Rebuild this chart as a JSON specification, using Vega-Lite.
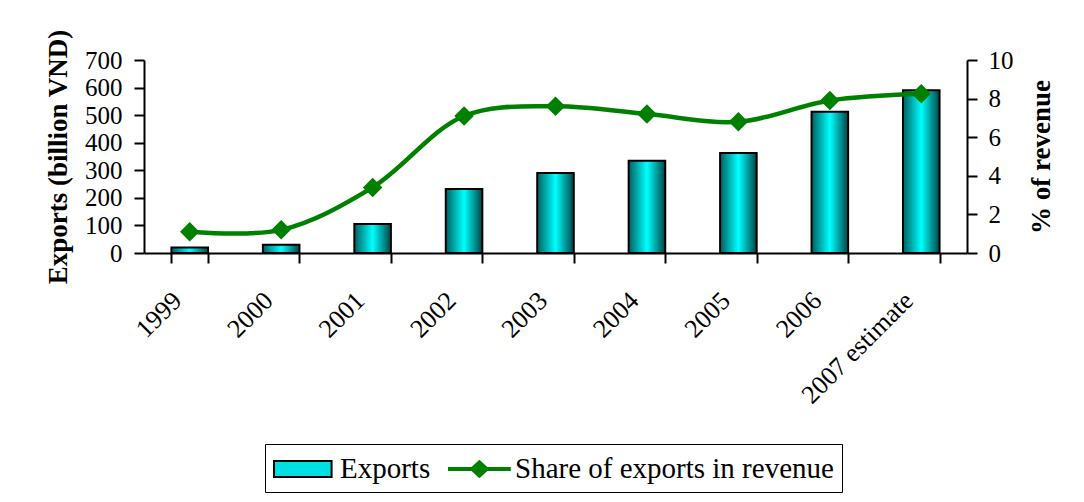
{
  "$schema": "https://vega.github.io/schema/vega-lite/v6.json",
  "width": 823,
  "height": 193,
  "padding": {"left": 44, "top": 28, "right": 5, "bottom": 5},
  "background": "white",
  "config": {
    "font": "Liberation Serif",
    "view": {"stroke": null},
    "axis": {
      "grid": false,
      "domainColor": "black",
      "domainWidth": 2,
      "tickColor": "black",
      "tickWidth": 2,
      "tickSize": 10,
      "labelColor": "black",
      "labelFont": "Liberation Serif",
      "labelFontSize": 25,
      "labelOverlap": false,
      "titleFont": "Liberation Serif",
      "titleFontSize": 27,
      "titleFontWeight": "bold",
      "titleColor": "black"
    },
    "legend": {
      "orient": "none",
      "legendX": 121,
      "legendY": 384,
      "direction": "horizontal",
      "strokeColor": "black",
      "padding": 8,
      "labelFontSize": 29,
      "labelFont": "Liberation Serif",
      "labelColor": "black",
      "labelLimit": 500,
      "labelOffset": 33,
      "columnPadding": 14,
      "symbolSize": 1024,
      "symbolStrokeWidth": 2,
      "symbolOpacity": 1
    }
  },
  "data": {
    "values": [
      {"year": "1999", "exports": 20, "share": 1.1},
      {"year": "2000", "exports": 30, "share": 1.2},
      {"year": "2001", "exports": 105, "share": 3.4},
      {"year": "2002", "exports": 232, "share": 7.1},
      {"year": "2003", "exports": 290, "share": 7.6},
      {"year": "2004", "exports": 335, "share": 7.2},
      {"year": "2005", "exports": 363, "share": 6.8},
      {"year": "2006", "exports": 512, "share": 7.9},
      {"year": "2007 estimate", "exports": 590, "share": 8.25}
    ]
  },
  "encoding": {
    "x": {
      "field": "year",
      "type": "nominal",
      "sort": null,
      "scale": {"paddingInner": 0.6, "paddingOuter": 0.3},
      "axis": {
        "title": null,
        "labelAngle": -45,
        "labelFontSize": 26,
        "labelPadding": 24,
        "labelOffset": -22,
        "tickBand": "extent",
        "labelLimit": 300
      }
    }
  },
  "layer": [
    {
      "layer": [
        {
          "mark": {
            "type": "bar",
            "fill": {
              "gradient": "linear",
              "x1": 0, "y1": 0, "x2": 1, "y2": 0,
              "stops": [
                {"offset": 0, "color": "#005f5f"},
                {"offset": 0.5, "color": "#00ffff"},
                {"offset": 1, "color": "#004545"}
              ]
            },
            "stroke": "black",
            "strokeWidth": 2
          },
          "encoding": {
            "y": {
              "field": "exports",
              "type": "quantitative",
              "scale": {"domain": [0, 700], "nice": false},
              "axis": {
                "title": "Exports (billion VND)",
                "values": [0, 100, 200, 300, 400, 500, 600, 700],
                "labelPadding": 12,
                "titlePadding": 12
              }
            }
          }
        },
        {
          "mark": {"type": "point", "opacity": 0, "filled": true},
          "encoding": {
            "y": {
              "field": "exports",
              "type": "quantitative",
              "axis": {
                "title": "Exports (billion VND)",
                "values": [0, 100, 200, 300, 400, 500, 600, 700],
                "labelPadding": 12,
                "titlePadding": 12
              }
            },
            "fill": {
              "datum": "Exports",
              "type": "nominal",
              "title": null,
              "scale": {"domain": ["Exports", "Share of exports in revenue"], "range": ["#00e0e0", "#008000"]}
            },
            "shape": {
              "datum": "Exports",
              "type": "nominal",
              "title": null,
              "scale": {
                "domain": ["Exports", "Share of exports in revenue"],
                "range": [
                  "M-1,-0.5 L2.6,-0.5 L2.6,0.5 L-1,0.5 Z",
                  "M-1,-0.07 L0.43,-0.07 L0.9,-0.5 L1.37,-0.07 L2.8,-0.07 L2.8,0.07 L1.37,0.07 L0.9,0.5 L0.43,0.07 L-1,0.07 Z"
                ]
              }
            },
            "stroke": {
              "datum": "Exports",
              "type": "nominal",
              "title": null,
              "scale": {"domain": ["Exports", "Share of exports in revenue"], "range": ["black", "#008000"]}
            }
          }
        }
      ]
    },
    {
      "layer": [
        {
          "mark": {"type": "line", "color": "#008000", "strokeWidth": 4.5, "interpolate": "catmull-rom"},
          "encoding": {
            "y": {
              "field": "share",
              "type": "quantitative",
              "scale": {"domain": [0, 10], "nice": false},
              "axis": {
                "orient": "right",
                "title": "% of revenue",
                "titleAngle": 270,
                "titleBaseline": "top",
                "values": [0, 2, 4, 6, 8, 10],
                "labelPadding": 11,
                "titlePadding": 15
              }
            }
          }
        },
        {
          "mark": {"type": "point", "shape": "diamond", "filled": true, "color": "#008000", "opacity": 1, "size": 380},
          "encoding": {
            "y": {
              "field": "share",
              "type": "quantitative",
              "axis": {
                "orient": "right",
                "title": "% of revenue",
                "titleAngle": 270,
                "titleBaseline": "top",
                "values": [0, 2, 4, 6, 8, 10],
                "labelPadding": 11,
                "titlePadding": 15
              }
            }
          }
        }
      ]
    }
  ],
  "resolve": {"scale": {"y": "independent"}}
}
